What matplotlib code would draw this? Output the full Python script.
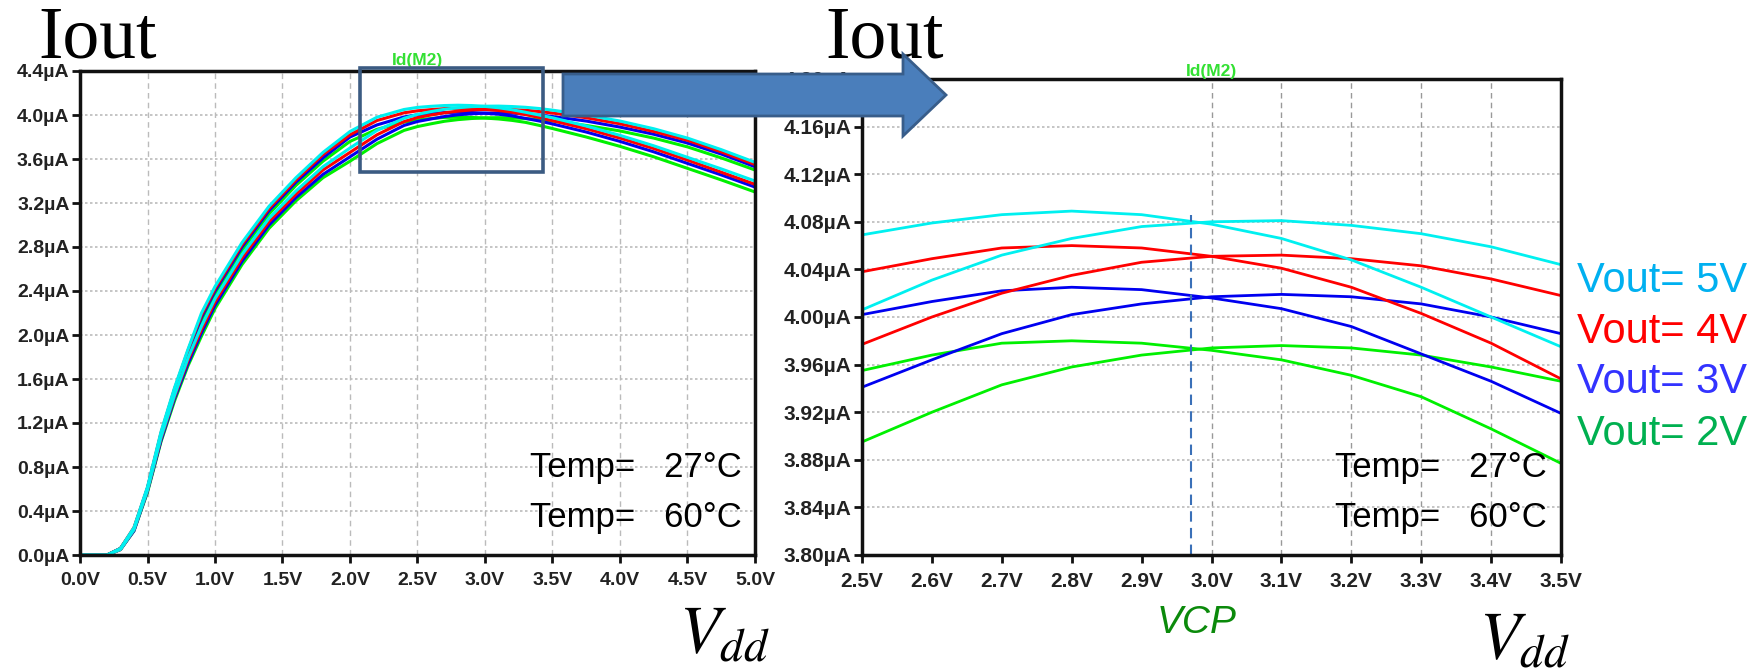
import matplotlib
matplotlib.use('Agg')
import numpy as np
import matplotlib.pyplot as plt
from matplotlib.patches import Polygon, Rectangle

W, H = 1765, 672

# Vdd sweep (V) and Id(M2) (uA) for Vout = 5/4/3/2 V at the two temperatures
vdd = [0.0, 0.2, 0.3, 0.4, 0.5, 0.6, 0.7, 0.8, 0.9, 1.0, 1.2, 1.4, 1.6, 1.8,
       2.0, 2.2, 2.4, 2.5, 2.6, 2.7, 2.8, 2.9, 3.0, 3.1, 3.2, 3.3, 3.4, 3.5,
       3.75, 4.0, 4.25, 4.5, 4.75, 5.0]

vout5_t27 = [0, 0, 0.06, 0.25, 0.62, 1.12, 1.52, 1.87, 2.20, 2.44, 2.84, 3.17, 3.43, 3.66,
             3.85, 3.98, 4.05, 4.069, 4.079, 4.086, 4.089, 4.086, 4.078, 4.066, 4.048,
             4.025, 4.000, 3.975, 3.90, 3.815, 3.72, 3.615, 3.51, 3.40]
vout4_t27 = [0, 0, 0.06, 0.25, 0.61, 1.11, 1.51, 1.86, 2.18, 2.42, 2.82, 3.15, 3.41, 3.64,
             3.82, 3.95, 4.02, 4.038, 4.049, 4.058, 4.060, 4.058, 4.051, 4.041, 4.025,
             4.003, 3.978, 3.948, 3.875, 3.79, 3.695, 3.59, 3.48, 3.37]
vout3_t27 = [0, 0, 0.06, 0.24, 0.61, 1.10, 1.50, 1.84, 2.16, 2.40, 2.80, 3.13, 3.39, 3.61,
             3.80, 3.91, 3.982, 4.002, 4.013, 4.022, 4.025, 4.023, 4.016, 4.007, 3.992,
             3.969, 3.946, 3.919, 3.845, 3.76, 3.665, 3.56, 3.455, 3.345]
vout2_t27 = [0, 0, 0.06, 0.24, 0.60, 1.09, 1.48, 1.82, 2.13, 2.37, 2.77, 3.10, 3.36, 3.58,
             3.76, 3.87, 3.935, 3.955, 3.968, 3.978, 3.980, 3.978, 3.972, 3.964, 3.951,
             3.933, 3.906, 3.877, 3.80, 3.715, 3.62, 3.515, 3.41, 3.30]
vout5_t60 = [0, 0, 0.05, 0.23, 0.59, 1.07, 1.45, 1.79, 2.08, 2.33, 2.73, 3.06, 3.31, 3.53,
             3.70, 3.86, 3.97, 4.006, 4.031, 4.052, 4.066, 4.076, 4.080, 4.081, 4.077,
             4.070, 4.059, 4.044, 4.00, 3.945, 3.875, 3.79, 3.685, 3.57]
vout4_t60 = [0, 0, 0.05, 0.23, 0.59, 1.06, 1.44, 1.77, 2.05, 2.30, 2.70, 3.03, 3.28, 3.50,
             3.66, 3.82, 3.94, 3.977, 4.000, 4.020, 4.035, 4.046, 4.051, 4.052, 4.049,
             4.043, 4.032, 4.018, 3.975, 3.92, 3.85, 3.77, 3.665, 3.55]
vout3_t60 = [0, 0, 0.05, 0.22, 0.58, 1.04, 1.42, 1.74, 2.02, 2.27, 2.67, 3.00, 3.25, 3.46,
             3.62, 3.78, 3.905, 3.941, 3.964, 3.986, 4.002, 4.011, 4.017, 4.019, 4.017,
             4.011, 4.000, 3.986, 3.945, 3.89, 3.825, 3.745, 3.645, 3.53]
vout2_t60 = [0, 0, 0.05, 0.22, 0.57, 1.03, 1.40, 1.72, 1.99, 2.24, 2.64, 2.97, 3.22, 3.43,
             3.58, 3.74, 3.86, 3.895, 3.920, 3.943, 3.958, 3.968, 3.974, 3.976, 3.974,
             3.968, 3.958, 3.946, 3.905, 3.855, 3.79, 3.71, 3.61, 3.50]

vcp = 2.97
vcp_top = 4.086

vout_labels = ['Vout= 5V', 'Vout= 4V', 'Vout= 3V', 'Vout= 2V']
temp_labels = ['Temp=   27\u00b0C', 'Temp=   60\u00b0C']

left_xticks = np.arange(0.0, 5.01, 0.5)
left_yticks = np.arange(0.0, 4.41, 0.4)
right_xticks = np.arange(2.5, 3.51, 0.1)
right_yticks = np.arange(3.80, 4.201, 0.04)

trace_colors = {2: '#00f000', 3: '#0000f0', 4: '#ff0000', 5: '#00f0f0'}
label_colors = ['#00b0f0', '#ff0000', '#3333ff', '#00b050']

curves = [(2, vout2_t27), (2, vout2_t60), (3, vout3_t27), (3, vout3_t60),
          (4, vout4_t27), (4, vout4_t60), (5, vout5_t27), (5, vout5_t60)]

plt.rcParams['font.family'] = ['Liberation Sans', 'DejaVu Sans']
plt.rcParams['mathtext.fontset'] = 'stix'


def fx(px):
    return px / W


def fy(py):
    return 1 - py / H


fig = plt.figure(figsize=(W / 100, H / 100), dpi=100)
ax1 = fig.add_axes([fx(80), fy(555), 675 / W, 484 / H])
ax2 = fig.add_axes([fx(862), fy(555), 699 / W, 476 / H])


def style_axes(ax, xt, yt, xfmt, yfmt, size):
    for s in ax.spines.values():
        s.set_linewidth(2.5)
        s.set_color('#111111')
    ax.set_xticks(xt, labels=[xfmt.format(v) for v in xt],
                  fontweight='bold', fontsize=size, color='#222222')
    ax.set_yticks(yt, labels=[yfmt.format(v) for v in yt],
                  fontweight='bold', fontsize=size, color='#222222')
    ax.tick_params(direction='out', length=6, width=2, color='#111111')
    ax.tick_params(axis='x', pad=6)
    ax.tick_params(axis='y', pad=1.5)
    ax.grid(axis='y', color='#bbbbbb', lw=1.2, ls=(0, (1.5, 1.5)))


# left: full sweep
for v, ys in curves:
    ax1.plot(vdd, ys, color=trace_colors[v], lw=2.2, solid_capstyle='round')
ax1.set_xlim(0, 5)
ax1.set_ylim(0, 4.4)
style_axes(ax1, left_xticks, left_yticks, '{:.1f}V', '{:.1f}\u00b5A', 14)
ax1.grid(axis='x', color='#bbbbbb', lw=1, ls=(0, (4, 3)))
ax1.set_title('Id(M2)', color='#33e033', fontsize=12.5, fontweight='bold', pad=4)

# right: zoom around the peak
for v, ys in curves:
    ax2.plot(vdd, ys, color=trace_colors[v], lw=2)
ax2.plot([vcp, vcp], [3.80, vcp_top], color='#3a70b8', lw=1.5, ls=(0, (5, 3)))
ax2.set_xlim(2.5, 3.5)
ax2.set_ylim(3.80, 4.20)
style_axes(ax2, right_xticks, right_yticks, '{:.1f}V', '{:.2f}\u00b5A', 15)
for xv in right_xticks[5:-1]:
    ax2.axvline(xv, color='#999999', lw=1, ls=(0, (4, 3)), zorder=0.5)
ax2.set_title('Id(M2)', color='#33e033', fontsize=12.5, fontweight='bold', pad=1)

# annotations
for x0 in (530, 1335):
    for lab, yb in zip(temp_labels, (477, 527)):
        fig.text(fx(x0), fy(yb), lab, fontsize=25, va='baseline', ha='left')

for lab, col, yb in zip(vout_labels, label_colors, (292, 343, 393, 445)):
    fig.text(fx(1577), fy(yb), lab, fontsize=30, color=col, va='baseline', ha='left')

fig.text(fx(1197), fy(633), 'VCP', fontsize=28, style='italic', color='#0b8a0b',
         ha='center', va='baseline')

for x0, yb in ((679, 653), (1479, 658)):
    fig.text(fx(x0), fy(yb), r'$V_{dd}$', fontsize=48, ha='left', va='baseline')

for x0 in (38, 825):
    fig.text(fx(x0), fy(57), 'Iout', family=['Liberation Serif', 'DejaVu Serif'],
             fontsize=53, ha='left', va='baseline')

fig.add_artist(Rectangle((fx(360), fy(172)), (543 - 360) / W, (172 - 68) / H,
                         transform=fig.transFigure, fill=False, ec='#3b5b82',
                         lw=2.6, zorder=4))

arrow_px = [(563, 74), (903, 74), (903, 54), (946, 95), (903, 136), (903, 116), (563, 116)]
fig.add_artist(Polygon([(fx(x), fy(y)) for x, y in arrow_px], closed=True,
                       transform=fig.transFigure, fc='#4a7ebb', ec='#385d8a',
                       lw=2, zorder=5))

fig.savefig('out.png', dpi=100)
